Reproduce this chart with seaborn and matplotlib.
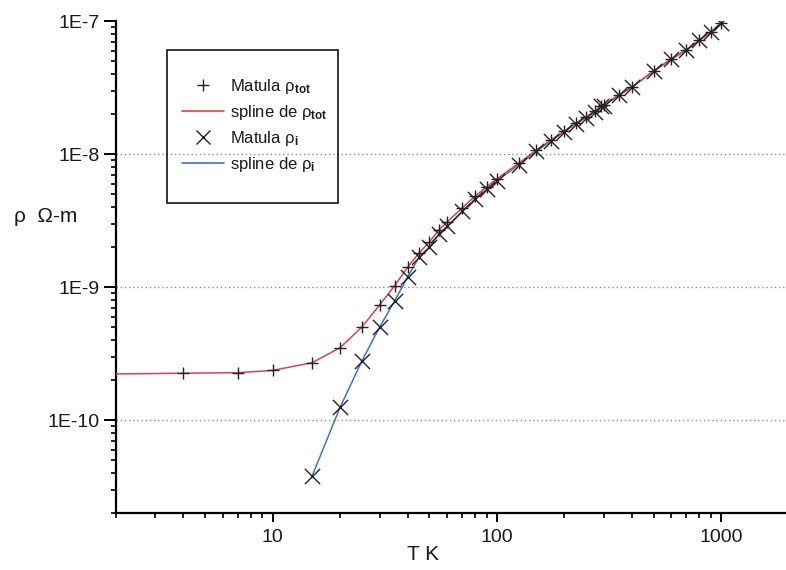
import numpy as np
import pandas as pd
import matplotlib
matplotlib.use("Agg")
import matplotlib.pyplot as plt
import seaborn as sns
from matplotlib.lines import Line2D
from matplotlib.patches import Rectangle
from matplotlib.ticker import LogLocator, FuncFormatter, NullFormatter, FixedLocator

# ---------------- data ----------------
T_tot = [4, 7, 10, 15, 20, 25, 30, 35, 40, 45, 50, 55, 60, 70, 80, 90, 100, 125, 150,
         175, 200, 225, 250, 273, 293, 300, 350, 400, 500, 600, 700, 800, 900, 1000]
rho_tot = [2.25e-10, 2.27e-10, 2.36e-10, 2.70e-10, 3.5e-10, 5.0e-10, 7.33e-10,
           1.02e-9, 1.41e-9, 1.80e-9, 2.18e-9, 2.68e-9, 3.08e-9, 3.93e-9, 4.83e-9,
           5.65e-9, 6.5e-9, 8.5e-9, 1.07e-8, 1.28e-8, 1.49e-8, 1.71e-8, 1.90e-8,
           2.10e-8, 2.30e-8, 2.33e-8, 2.78e-8, 3.19e-8, 4.21e-8, 5.18e-8, 6.05e-8,
           7.19e-8, 8.26e-8, 9.66e-8]

T_i = [15, 20, 25, 30, 35, 40, 45, 50, 55, 60, 70, 80, 90, 100, 125, 150,
       175, 200, 225, 250, 273, 293, 300, 350, 400, 500, 600, 700, 800, 900, 1000]
rho_i = [3.8e-11, 1.25e-10, 2.78e-10, 5.0e-10, 7.85e-10, 1.19e-9, 1.68e-9, 2.0e-9,
         2.5e-9, 2.86e-9, 3.71e-9, 4.61e-9, 5.43e-9, 6.28e-9, 8.28e-9, 1.05e-8,
         1.26e-8, 1.47e-8, 1.69e-8, 1.88e-8, 2.08e-8, 2.28e-8, 2.31e-8, 2.76e-8,
         3.17e-8, 4.19e-8, 5.16e-8, 6.03e-8, 7.17e-8, 8.24e-8, 9.64e-8]

# spline curves (the red spline starts at the left edge, 2 K)
spline_T_tot = [2] + T_tot
spline_rho_tot = [2.22e-10] + rho_tot
spline_T_i = T_i
spline_rho_i = rho_i

x_ticks = [10, 100, 1000]
x_tick_labels = ["10", "100", "1000"]
y_ticks = [1e-10, 1e-9, 1e-8, 1e-7]
y_tick_labels = ["1E-10", "1E-9", "1E-8", "1E-7"]
grid_levels = [1e-10, 1e-9, 1e-8]

legend_labels = [r"Matula ρ$_{\mathbf{tot}}$", r"spline de ρ$_{\mathbf{tot}}$",
                 r"Matula ρ$_{\mathbf{i}}$", r"spline de ρ$_{\mathbf{i}}$"]

# ---------------- style ----------------
sns.set_style("ticks")
plt.rcParams["font.family"] = ["Liberation Sans", "DejaVu Sans"]
plt.rcParams["mathtext.fontset"] = "custom"
plt.rcParams["mathtext.rm"] = "Liberation Sans"
plt.rcParams["mathtext.it"] = "Liberation Sans:italic"
plt.rcParams["mathtext.bf"] = "Liberation Sans:bold"

RED = "#d9434c"
BLUE = "#3d74c0"
TXT = "#1a1a1a"

fig = plt.figure(figsize=(7.86, 5.70), dpi=100)
ax = fig.add_axes([116 / 786, 57 / 570, 670 / 786, 492 / 570])

df_st = pd.DataFrame({"T": spline_T_tot, "rho": spline_rho_tot})
df_si = pd.DataFrame({"T": spline_T_i, "rho": spline_rho_i})
df_t = pd.DataFrame({"T": T_tot, "rho": rho_tot})
df_i = pd.DataFrame({"T": T_i, "rho": rho_i})

ax.set_xscale("log")
ax.set_yscale("log")

for lev in grid_levels:
    ax.axhline(lev, color="#7f8fa0", lw=1.0, ls=(0, (1, 2)), zorder=0)

sns.lineplot(data=df_si, x="T", y="rho", ax=ax, color=BLUE, lw=1.1,
             sort=False, estimator=None, zorder=2)
sns.lineplot(data=df_st, x="T", y="rho", ax=ax, color=RED, lw=1.1,
             sort=False, estimator=None, zorder=3)
sns.scatterplot(data=df_t, x="T", y="rho", ax=ax, marker="+", s=80,
                color="#222222", linewidth=1.0, zorder=4)
sns.scatterplot(data=df_i, x="T", y="rho", ax=ax, marker="x", s=120,
                color="#222222", linewidth=1.0, zorder=5)

ax.set_xlim(2, 1950)
ax.set_ylim(2e-11, 1e-7)

ax.xaxis.set_major_locator(FixedLocator(x_ticks))
ax.xaxis.set_major_formatter(FuncFormatter(lambda v, p: x_tick_labels[x_ticks.index(v)] if v in x_ticks else ""))
ax.xaxis.set_minor_locator(LogLocator(base=10, subs=np.arange(2, 10)))
ax.xaxis.set_minor_formatter(NullFormatter())
ax.yaxis.set_major_locator(FixedLocator(y_ticks))
ax.yaxis.set_major_formatter(FuncFormatter(lambda v, p: y_tick_labels[p] if p is not None and p < len(y_tick_labels) else ""))
ax.yaxis.set_minor_locator(LogLocator(base=10, subs=np.arange(2, 10)))
ax.yaxis.set_minor_formatter(NullFormatter())

ax.tick_params(axis="x", which="major", direction="out", length=6.5, width=1.4,
               labelsize=14, pad=5, colors="black", labelcolor=TXT)
ax.tick_params(axis="y", which="major", direction="out", length=8.5, width=1.4,
               labelsize=14, pad=3.5, colors="black", labelcolor=TXT)
ax.tick_params(axis="both", which="minor", direction="out", length=3.5, width=1.2,
               colors="black")

for s in ["top", "right"]:
    ax.spines[s].set_visible(False)
for s in ["left", "bottom"]:
    ax.spines[s].set_linewidth(1.6)
    ax.spines[s].set_color("black")

ax.set_xlabel("T K", fontsize=15, color=TXT)
ax.xaxis.set_label_coords((423 - 116) / 670, (513 - 555) / 492)
ax.xaxis.label.set_va("center")
ax.set_ylabel("ρ  Ω-m", fontsize=15, color=TXT, rotation=0)
ax.yaxis.set_label_coords((46 - 116) / 670, (513 - 217) / 492)
ax.yaxis.label.set_ha("center")
ax.yaxis.label.set_va("center")

handles = [
    Line2D([], [], marker="+", ls="", color="#222222", ms=9, mew=1.0),
    Line2D([], [], color=RED, lw=1.2),
    Line2D([], [], marker="x", ls="", color="#222222", ms=10, mew=1.0),
    Line2D([], [], color=BLUE, lw=1.2),
]
leg = ax.legend(handles, legend_labels, loc="center left",
                bbox_to_anchor=(182 / 786, 1 - 125 / 570),
                bbox_transform=fig.transFigure, frameon=False,
                fontsize=12, borderpad=0, borderaxespad=0,
                handlelength=2.5, handletextpad=0.35, labelspacing=0.42)
for t in leg.get_texts():
    t.set_color(TXT)

fig.patches.append(Rectangle((167 / 786, 1 - 203 / 570), (338 - 167) / 786,
                             (203 - 50) / 570, transform=fig.transFigure,
                             fill=False, ec="black", lw=1.1, zorder=10))

fig.savefig("out.png", dpi=100)
